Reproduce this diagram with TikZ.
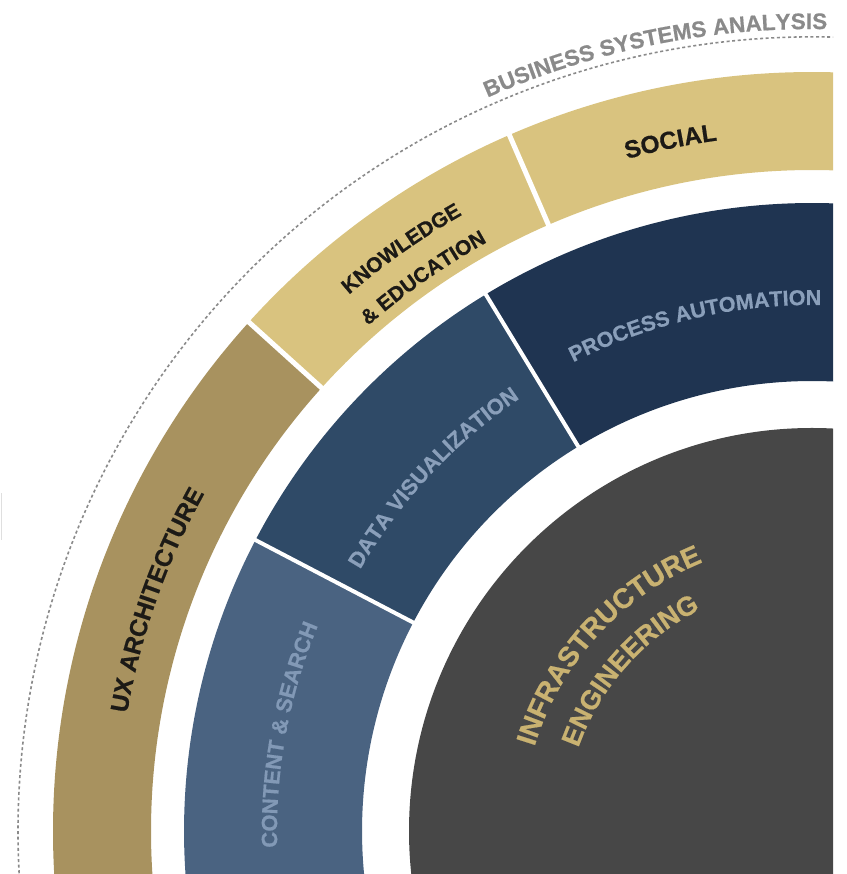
\documentclass[tikz,border=0pt]{standalone}
\usepackage{fontspec}
\setmainfont{Liberation Sans}
\newfontfamily\labfont[FakeBold=0.6]{Liberation Sans}
\usetikzlibrary{decorations.text}
\definecolor{graydisc}{HTML}{474747}
\definecolor{csblue}{HTML}{4A6381}
\definecolor{dvblue}{HTML}{2F4A67}
\definecolor{pablue}{HTML}{1F3451}
\definecolor{uxgold}{HTML}{A8925F}
\definecolor{ltgold}{HTML}{D9C37F}
\definecolor{cstext}{HTML}{8299B6}
\definecolor{bluetext}{HTML}{8A9FBA}
\definecolor{goldtext}{HTML}{C9B271}
\definecolor{darktext}{HTML}{1C1A16}
\definecolor{bsagray}{HTML}{8A8A8A}
\newcommand\annsec[5]{\fill[#1] (#2:#4) arc[start angle=#2, end angle=#3, radius=#4] -- (#3:#5) arc[start angle=#3, end angle=#2, radius=#5] -- cycle;}
% color, font size, baseline radius, start angle, end angle, text
\newcommand\arclabel[6]{\path[decorate, decoration={text along path, text align=center, text color=#1, text={|\labfont\bfseries\fontsize{#2}{#2}\selectfont|#6}}] (#4:#3) arc[start angle=#4, end angle=#5, radius=#3];}
\tikzset{
  sepline/.style={white, line width=#1},
  dotarc/.style={draw=bsagray, line width=1.6, dash pattern=on 3 off 2.6},
}
\begin{document}
\begin{tikzpicture}[x=1pt,y=1pt]
\useasboundingbox (0,0) rectangle (846,874);
\draw[gray!25, line width=1.2] (1.5,334) -- (1.5,381);
\begin{scope}
\clip (0,0) rectangle (833,874);
\begin{scope}[shift={(812,43)}]
  \fill[graydisc] (0,0) circle[radius=403];
  % blue ring
  \annsec{csblue}{152.4}{200}{628}{450}
  \annsec{dvblue}{121.3}{152.4}{628}{450}
  \annsec{pablue}{60}{121.3}{628}{450}
  \draw[sepline=4] (152.4:445) -- (152.4:633);
  \draw[sepline=4] (121.3:445) -- (121.3:633);
  % gold ring
  \annsec{uxgold}{137.9}{200}{759}{661}
  \annsec{ltgold}{113.5}{137.9}{759}{661}
  \annsec{ltgold}{60}{113.5}{759}{661}
  \draw[sepline=5] (137.9:655) -- (137.9:765);
  \draw[sepline=5] (113.5:655) -- (113.5:765);
  % dotted arc
  \draw[dotarc] (60:794) arc[start angle=60, end angle=200, radius=794];
  % labels
  \arclabel{bsagray}{22.5}{802}{131.4}{71.4}{BUSINESS SYSTEMS ANALYSIS}
  \arclabel{darktext}{24.5}{697}{121.6}{81.6}{SOCIAL}
  \arclabel{darktext}{21}{708.5}{145.2}{105.2}{KNOWLEDGE}
  \arclabel{darktext}{21}{672.5}{145.1}{105.1}{{\&} EDUCATION}
  \arclabel{darktext}{24.5}{695}{185.6}{135.6}{UX ARCHITECTURE}
  \arclabel{cstext}{22}{535}{194.6}{144.6}{CONTENT {\&} SEARCH}
  \arclabel{bluetext}{22}{522}{167}{107}{DATA VISUALIZATION}
  \arclabel{bluetext}{21.5}{526}{138}{68}{PROCESS AUTOMATION}
  \arclabel{goldtext}{28}{290}{182.6}{92.6}{INFRASTRUCTURE}
  \arclabel{goldtext}{27}{248}{183.6}{93.6}{ENGINEERING}
\end{scope}
\end{scope}
\end{tikzpicture}
\end{document}
